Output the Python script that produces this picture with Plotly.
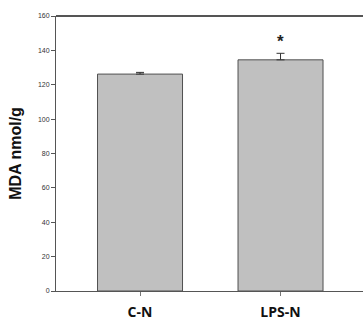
import plotly.graph_objects as go

categories = ["C-N", "LPS-N"]
values = [126.2, 134.5]
errors = [1.0, 3.8]
y_ticks = [0, 20, 40, 60, 80, 100, 120, 140, 160]
y_title = "MDA nmol/g"
sig_label = "*"

fig = go.Figure()
fig.add_trace(go.Bar(
    x=[0, 1], y=values,
    width=0.605,
    marker=dict(color="#c0c0c0", line=dict(color="#505050", width=1)),
    error_y=dict(type="data", array=errors, visible=True, color="#333333",
                 thickness=1, width=4, symmetric=False, arrayminus=[0, 0]),
))

fig.add_annotation(x=1, y=values[1] + errors[1] + 7, text="<b>" + sig_label + "</b>",
                   showarrow=False, font=dict(family="Arial, Liberation Sans", size=17, color="#222"),
                   xref="x", yref="y")

fig.add_shape(type="line", xref="paper", yref="paper", x0=0, x1=1, y0=1, y1=1,
              line=dict(color="#555555", width=2))

fig.update_layout(
    width=363, height=322,
    margin=dict(l=56, r=0, t=16, b=31),
    paper_bgcolor="white", plot_bgcolor="white",
    showlegend=False,
    xaxis=dict(
        range=[-0.598, 1.587],
        tickmode="array", tickvals=[0, 1],
        ticktext=["<b>%s</b>" % c for c in categories],
        tickfont=dict(family="Open Sans, Liberation Sans", size=14, color="#111"),
        showline=True, linecolor="#555555", linewidth=1,
        ticks="outside", ticklen=4, tickcolor="#777777",
        ticklabelstandoff=4,
        showgrid=False, zeroline=False,
    ),
    yaxis=dict(
        range=[0, 160],
        tickmode="array", tickvals=y_ticks,
        ticktext=[str(v) for v in y_ticks],
        tickfont=dict(family="Arial, Liberation Sans", size=7, color="#333"),
        showline=True, linecolor="#555555", linewidth=1,
        ticks="outside", ticklen=4, tickcolor="#555555",
        showgrid=False, zeroline=False,
        title=dict(text="<b>" + y_title + "</b>", standoff=12,
                   font=dict(family="Arial, Liberation Sans", size=16, color="#111")),
    ),
)

fig.write_html("out.html")
